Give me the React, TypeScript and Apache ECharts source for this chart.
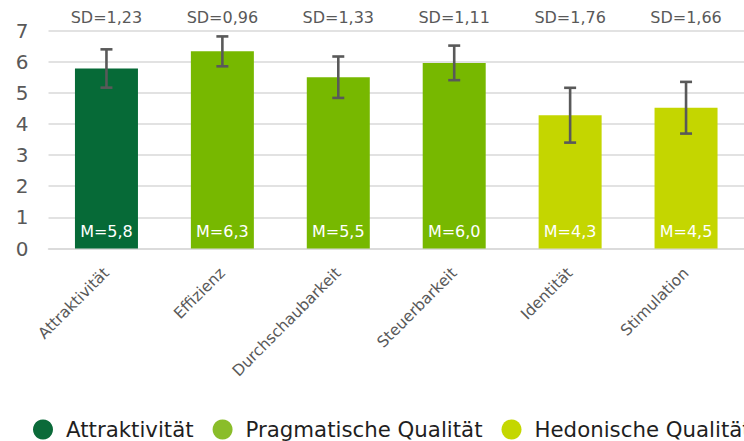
import React, { useEffect, useRef } from "react";
import * as echarts from "echarts";

const categories = ["Attraktivität", "Effizienz", "Durchschaubarkeit", "Steuerbarkeit", "Identität", "Stimulation"];
const means = [5.78, 6.33, 5.5, 5.96, 4.28, 4.52];
const sds = [1.23, 0.96, 1.33, 1.11, 1.76, 1.66];
const groups = ["Attraktivität", "Pragmatische Qualität", "Hedonische Qualität"];
const groupOf = [0, 1, 1, 1, 2, 2];
const barColors = ["#066A37", "#77B800", "#C4D600"];
const legendColors = ["#0B6A39", "#8ABD2A", "#C4D700"];
const yTicks = [0, 1, 2, 3, 4, 5, 6, 7];

const FONT = "DejaVu Sans";
const fmt = (v: number) => v.toFixed(1).replace(".", ",");
const fmt2 = (v: number) => v.toFixed(2).replace(".", ",");

export default function App() {
  const ref = useRef<HTMLDivElement>(null);
  useEffect(() => {
    document.body.style.margin = "0";
    const chart = echarts.init(ref.current!, null, { renderer: "svg" });
    const sdLabels = sds.map((s) => "SD=" + fmt2(s));
    const barSeries = groups.map((g, gi) => ({
      name: g,
      type: "bar",
      barWidth: 63,
      barGap: "-100%",
      itemStyle: { color: barColors[gi] },
      label: {
        show: true,
        position: "insideBottom",
        distance: 9,
        color: "#ffffff",
        fontSize: 16,
        fontFamily: FONT,
        formatter: (p: any) => "M=" + fmt(p.value),
      },
      data: means.map((m, i) => (groupOf[i] === gi ? m : "-")),
      z: 2,
    }));
    chart.setOption({
      animation: false,
      grid: { left: 48.5, right: -6, top: 30.5, height: 218 },
      legend: {
        left: 33,
        top: 419,
        padding: 0,
        width: 1400,
        icon: "circle",
        itemWidth: 20,
        itemHeight: 20,
        itemGap: 19,
        textStyle: { fontSize: 21.3, fontFamily: FONT, color: "#1f1f1f", padding: [0, 0, 0, 8] },
        data: groups.map((g, gi) => ({ name: g, itemStyle: { color: legendColors[gi] } })),
      },
      xAxis: [
        {
          type: "category",
          data: categories,
          axisLine: { show: true, lineStyle: { color: "#d9d9d9", width: 1.5 } },
          axisTick: { show: false },
          axisLabel: {
            rotate: 45,
            margin: 22,
            interval: 0,
            fontSize: 15.5,
            fontFamily: FONT,
            color: "#595959",
          },
        },
        {
          type: "category",
          position: "top",
          data: sdLabels,
          axisLine: { show: false },
          axisTick: { show: false },
          axisLabel: { margin: 5, interval: 0, fontSize: 16, fontFamily: FONT, color: "#595959" },
        },
      ],
      yAxis: {
        type: "value",
        min: 0,
        max: 7,
        interval: 1,
        axisLine: { show: false },
        axisTick: { show: false },
        splitLine: { lineStyle: { color: "#d9d9d9", width: 1.5 } },
        axisLabel: {
          margin: 20,
          fontSize: 20,
          fontFamily: FONT,
          color: "#595959",
          formatter: (v: number) => (yTicks.includes(v) ? String(v) : ""),
        },
      },
      series: [
        ...barSeries,
        {
          name: "SD",
          type: "custom",
          z: 5,
          data: means.map((m, i) => [i, m - sds[i] / 2, m + sds[i] / 2]),
          renderItem: (params: any, api: any) => {
            const x = api.value(0);
            const lo = api.coord([x, api.value(1)]);
            const hi = api.coord([x, api.value(2)]);
            const w = 6;
            const style = { stroke: "#595959", lineWidth: 2.6 };
            return {
              type: "group",
              children: [
                { type: "line", shape: { x1: lo[0], y1: lo[1], x2: hi[0], y2: hi[1] }, style },
                { type: "line", shape: { x1: hi[0] - w, y1: hi[1], x2: hi[0] + w, y2: hi[1] }, style },
                { type: "line", shape: { x1: lo[0] - w, y1: lo[1], x2: lo[0] + w, y2: lo[1] }, style },
              ],
            };
          },
        },
      ],
    });
    return () => chart.dispose();
  }, []);
  return (
    <div
      ref={ref}
      style={{ position: "absolute", left: 0, top: 0, width: 744, height: 441, background: "#ffffff" }}
    />
  );
}
